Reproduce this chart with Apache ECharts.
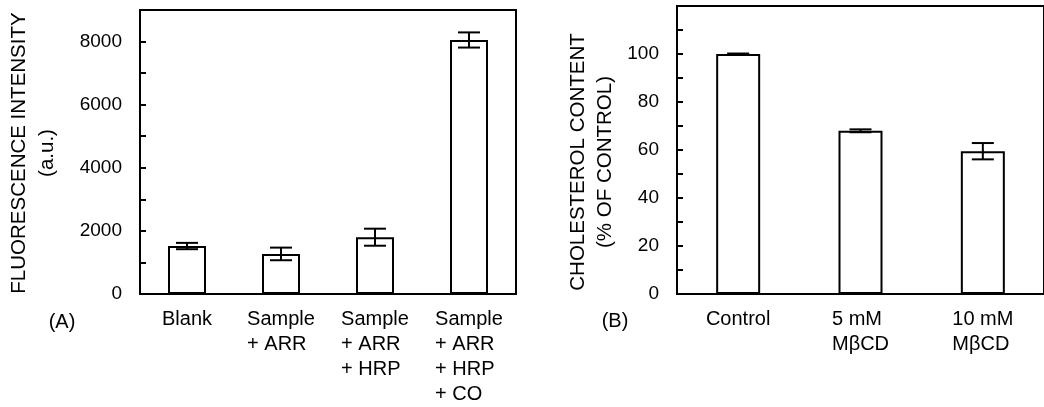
<!DOCTYPE html>
<html>
<head>
<meta charset="utf-8">
<script src="https://cdn.jsdelivr.net/npm/echarts@6/dist/echarts.min.js"></script>
<style>
  html, body { margin: 0; padding: 0; background: #fff; }
  #main { width: 1044px; height: 407px; }
</style>
</head>
<body>
<div id="main"></div>
<script>
// (A) fluorescence
var catsA = ['Blank', 'Sample\n+ ARR', 'Sample\n+ ARR\n+ HRP', 'Sample\n+ ARR\n+ HRP\n+ CO'];
var valsA = [1520, 1270, 1800, 8050];
var errsA = [100, 200, 270, 240];
var ticksA = [0, 2000, 4000, 6000, 8000];

// (B) cholesterol
var catsB = ['Control', '5 mM\nMβCD', '10 mM\nMβCD'];
var valsB = [100, 68, 59.5];
var errsB = [0.2, 0.6, 3.4];
var ticksB = [0, 20, 40, 60, 80, 100];

var FONT = 'Liberation Sans, Arial, sans-serif';

var chart = echarts.init(document.getElementById('main'));

function errData(vals, errs) {
  return vals.map(function (v, i) { return [i, v - errs[i], v + errs[i]]; });
}

// vertical line + two caps
function errRender(params, api) {
  var hi = api.coord([api.value(0), api.value(2)]);
  var lo = api.coord([api.value(0), api.value(1)]);
  var hw = 11;
  var st = { stroke: '#000', lineWidth: 2 };
  return {
    type: 'group',
    children: [
      { type: 'line', shape: { x1: hi[0], y1: hi[1], x2: lo[0], y2: lo[1] }, style: st },
      { type: 'line', shape: { x1: hi[0] - hw, y1: hi[1], x2: hi[0] + hw, y2: hi[1] }, style: st },
      { type: 'line', shape: { x1: lo[0] - hw, y1: lo[1], x2: lo[0] + hw, y2: lo[1] }, style: st }
    ]
  };
}

function catAxis(idx, cats) {
  return {
    type: 'category',
    gridIndex: idx,
    data: cats,
    axisLine: { lineStyle: { color: '#000', width: 2 } },
    axisTick: { show: false },
    axisLabel: {
      interval: 0,
      margin: 13,
      color: '#000',
      fontFamily: FONT,
      fontSize: 20,
      lineHeight: 25,
      formatter: function (v) {
        return v.split('\n').map(function (s) { return '{l|' + s + '}'; }).join('\n');
      },
      rich: { l: { align: 'left', fontFamily: FONT, fontSize: 20, lineHeight: 25, color: '#000' } }
    }
  };
}

function valAxis(idx, max, step, ticks) {
  return {
    type: 'value',
    gridIndex: idx,
    min: 0,
    max: max,
    interval: step,
    splitLine: { show: false },
    axisLine: { show: true, lineStyle: { color: '#000', width: 2 } },
    axisTick: { show: true, inside: true, length: 6, lineStyle: { color: '#000', width: 2 } },
    axisLabel: {
      margin: 18,
      color: '#000',
      fontFamily: FONT,
      fontSize: 19,
      formatter: function (v) { return ticks.indexOf(v) >= 0 ? String(v) : ''; }
    }
  };
}

var option = {
  animation: false,
  backgroundColor: '#fff',
  grid: [
    { left: 140, top: 10, width: 376, height: 286, show: true, borderColor: '#000', borderWidth: 2 },
    { left: 677, top: 6, width: 375, height: 288, show: true, borderColor: '#000', borderWidth: 2 }
  ],
  xAxis: [catAxis(0, catsA), catAxis(1, catsB)],
  yAxis: [valAxis(0, 9000, 1000, ticksA), valAxis(1, 120, 10, ticksB)],
  graphic: [
    { type: 'text', x: 33, y: 153, rotation: Math.PI / 2,
      style: { text: 'FLUORESCENCE INTENSITY\n(a.u.)', align: 'center', verticalAlign: 'middle',
               font: '20.5px ' + FONT, lineHeight: 28, fill: '#000' } },
    { type: 'text', x: 592, y: 162, rotation: Math.PI / 2,
      style: { text: 'CHOLESTEROL CONTENT\n(% OF CONTROL)', align: 'center', verticalAlign: 'middle',
               font: '20.5px ' + FONT, lineHeight: 27, fill: '#000' } },
    { type: 'text', x: 62, y: 322,
      style: { text: '(A)', align: 'center', verticalAlign: 'middle', font: '20px ' + FONT, fill: '#000' } },
    { type: 'text', x: 615, y: 321,
      style: { text: '(B)', align: 'center', verticalAlign: 'middle', font: '20px ' + FONT, fill: '#000' } }
  ],
  series: [
    { type: 'bar', xAxisIndex: 0, yAxisIndex: 0, data: valsA, barWidth: 38,
      itemStyle: { color: '#fff', borderColor: '#000', borderWidth: 2 } },
    { type: 'custom', xAxisIndex: 0, yAxisIndex: 0, data: errData(valsA, errsA),
      renderItem: errRender, z: 5 },
    { type: 'bar', xAxisIndex: 1, yAxisIndex: 1, data: valsB, barWidth: 44,
      itemStyle: { color: '#fff', borderColor: '#000', borderWidth: 2 } },
    { type: 'custom', xAxisIndex: 1, yAxisIndex: 1, data: errData(valsB, errsB),
      renderItem: errRender, z: 5 }
  ]
};

chart.setOption(option);
</script>
</body>
</html>
